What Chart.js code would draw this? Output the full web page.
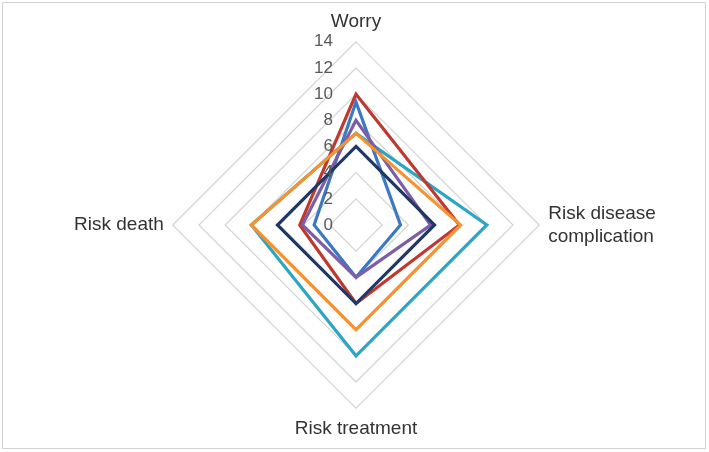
<!DOCTYPE html>
<html>
<head>
<meta charset="utf-8">
<script src="https://cdn.jsdelivr.net/npm/chart.js@4"></script>
<style>
  html, body { margin: 0; padding: 0; background: #fff; }
  #wrap { position: relative; width: 709px; height: 452px; }
  #frame { position: absolute; left: 2px; top: 2px; width: 702px; height: 445px;
           border: 1.5px solid #d3d3d3; pointer-events: none; }
</style>
</head>
<body>
<div id="wrap">
  <canvas id="c" width="709" height="452"></canvas>
  <div id="frame"></div>
</div>
<script>
// Categories (axes)
const categories = ["Worry", ["Risk disease", "complication"], "Risk treatment", "Risk death"];
// Radial tick labels
const tickValues = [0, 2, 4, 6, 8, 10, 12, 14];

// Series values (Worry, Risk disease complication, Risk treatment, Risk death)
const orangeSeries = [7, 8, 8, 8];
const navySeries   = [6, 6, 6, 6];
const purpleSeries = [8, 5.7, 4, 4.1];
const blueSeries   = [9.4, 3.4, 4, 3.2];
const redSeries    = [10, 7.9, 6, 4.3];
const cyanSeries   = [7, 10, 10, 8];

const mk = (data, color) => ({
  data, borderColor: color, backgroundColor: 'transparent',
  borderWidth: 3.2, pointRadius: 0, pointHoverRadius: 0, fill: false, tension: 0
});

const tickPlugin = {
  id: 'tickLabels',
  afterDraw(chart) {
    const s = chart.scales.r;
    const ctx = chart.ctx;
    ctx.save();
    ctx.font = '17px "Liberation Sans", Arial, sans-serif';
    ctx.fillStyle = '#595959';
    ctx.textAlign = 'right';
    ctx.textBaseline = 'middle';
    tickValues.forEach(v => {
      const d = s.getDistanceFromCenterForValue(v);
      ctx.fillText(String(v), s.xCenter - 23, s.yCenter - d);
    });
    ctx.restore();
  }
};

new Chart(document.getElementById('c'), {
  type: 'radar',
  data: {
    labels: categories,
    datasets: [
      mk(orangeSeries, '#f7922e'),
      mk(navySeries, '#1f3864'),
      mk(purpleSeries, '#7b5ea7'),
      mk(blueSeries, '#3b78c3'),
      mk(redSeries, '#c0392f'),
      mk(cyanSeries, '#2ba6c5')
    ]
  },
  options: {
    responsive: false,
    animation: false,
    layout: { padding: { top: 10, bottom: 11, left: 3, right: 0 } },
    plugins: { legend: { display: false }, tooltip: { enabled: false } },
    scales: {
      r: {
        min: 0, max: 14,
        ticks: { stepSize: 2, display: false },
        grid: { color: '#d4d4d4', lineWidth: 1.2, circular: false },
        angleLines: { display: false },
        pointLabels: {
          color: '#333333',
          padding: 9,
          font: { family: '"Liberation Sans", Arial, sans-serif', size: 19 }
        }
      }
    }
  },
  plugins: [tickPlugin]
});
</script>
</body>
</html>
